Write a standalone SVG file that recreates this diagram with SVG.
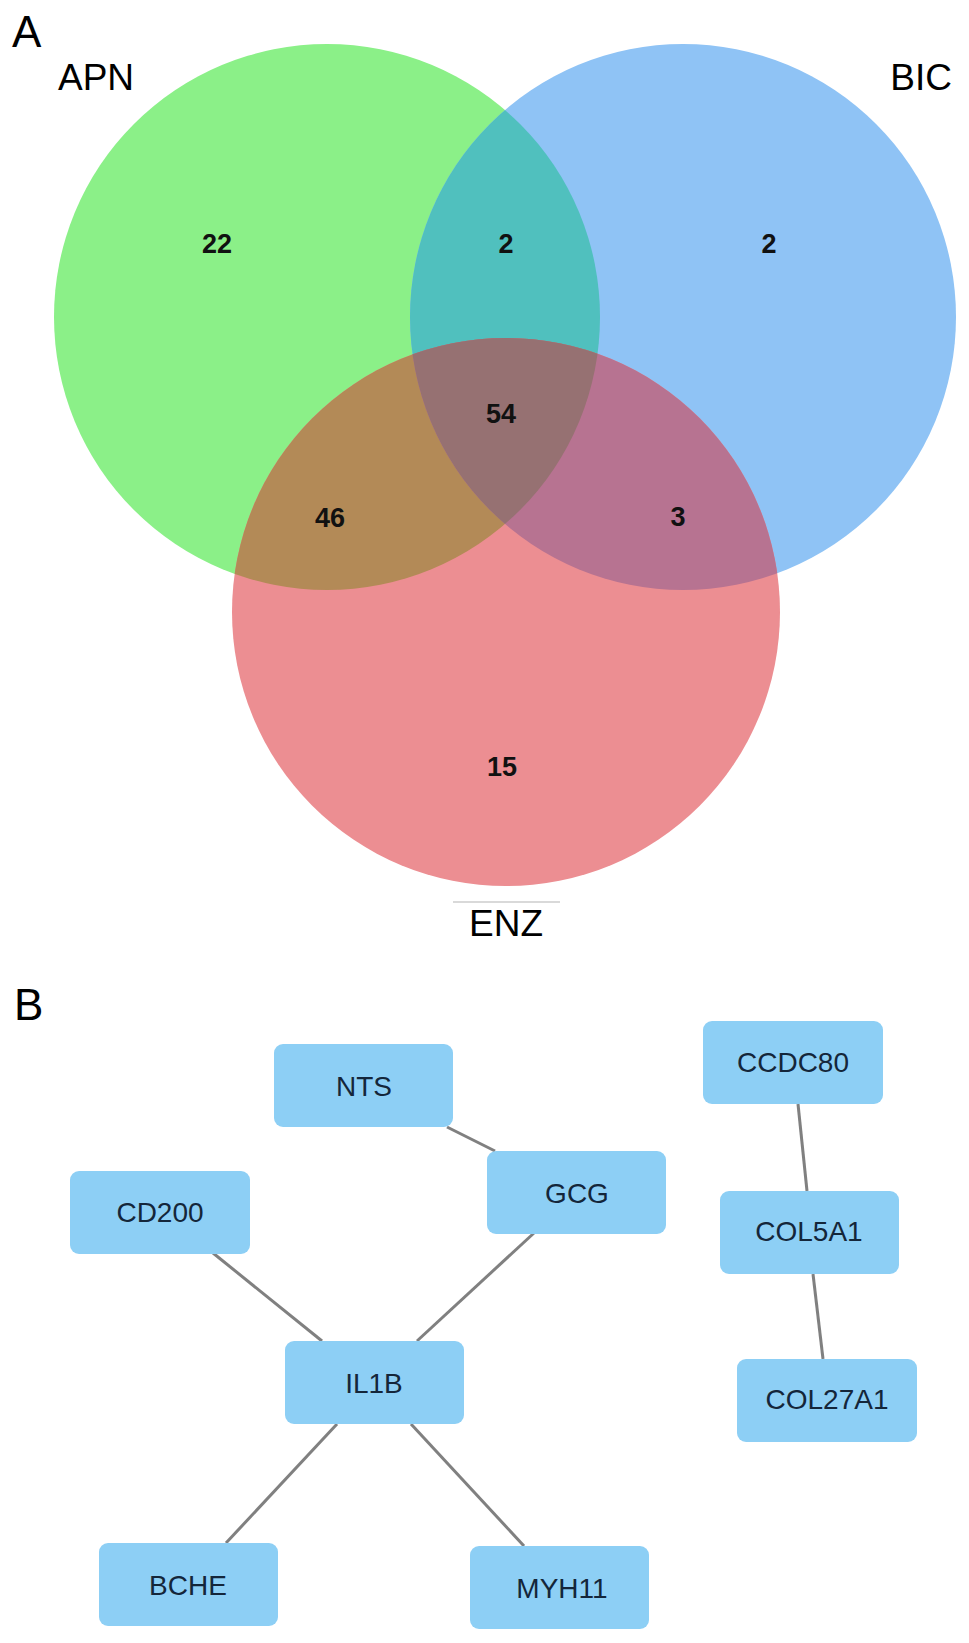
<svg xmlns="http://www.w3.org/2000/svg" width="969" height="1643" viewBox="0 0 969 1643">
<style>
.lbl{font-family:"Liberation Sans",Arial,sans-serif;fill:#000}
.num{font-family:"Liberation Sans",Arial,sans-serif;font-weight:bold;font-size:27px;fill:#111;text-anchor:middle}
.box{fill:#8DCFF5}
.nt{font-family:"Liberation Sans",Arial,sans-serif;font-size:28px;fill:#14263a;text-anchor:middle}
.edge{stroke:#808080;stroke-width:3;fill:none}
</style>
<defs>
<clipPath id="cG"><circle cx="327" cy="317" r="273"/></clipPath>
<clipPath id="cB"><circle cx="683" cy="317" r="273"/></clipPath>
<clipPath id="cR"><circle cx="506" cy="612" r="274"/></clipPath>
</defs>
<rect width="969" height="1643" fill="#fff"/>
<text class="lbl" x="12" y="47" font-size="44">A</text>
<g id="venn">
<circle id="setAPN" cx="327" cy="317" r="273" fill="#8BF088"/>
<circle id="setBIC" cx="683" cy="317" r="273" fill="#8FC3F5"/>
<circle id="setENZ" cx="506" cy="612" r="274" fill="#EC8E92"/>
<circle cx="683" cy="317" r="273" fill="#50C0BE" clip-path="url(#cG)"/>
<circle cx="506" cy="612" r="274" fill="#B38A57" clip-path="url(#cG)"/>
<circle cx="506" cy="612" r="274" fill="#B77391" clip-path="url(#cB)"/>
<g clip-path="url(#cG)"><circle cx="506" cy="612" r="274" fill="#967172" clip-path="url(#cB)"/></g>
</g>
<text class="lbl" x="58" y="90" font-size="37">APN</text>
<text class="lbl" x="952" y="90" font-size="37" text-anchor="end">BIC</text>
<line x1="453" y1="902" x2="560" y2="902" stroke="#cccccc" stroke-width="1.5"/>
<text class="lbl" x="506" y="936" font-size="37" text-anchor="middle">ENZ</text>
<text class="num" x="217" y="253">22</text>
<text class="num" x="506" y="253">2</text>
<text class="num" x="769" y="253">2</text>
<text class="num" x="501" y="423">54</text>
<text class="num" x="330" y="527">46</text>
<text class="num" x="678" y="526">3</text>
<text class="num" x="502" y="776">15</text>
<text class="lbl" x="14" y="1020" font-size="44">B</text>
<g id="connectors">
<line class="edge" x1="447" y1="1127" x2="495" y2="1151"/>
<line class="edge" x1="213" y1="1253" x2="322" y2="1341"/>
<line class="edge" x1="534" y1="1233" x2="417" y2="1341"/>
<line class="edge" x1="337" y1="1424" x2="226" y2="1543"/>
<line class="edge" x1="411" y1="1424" x2="524" y2="1546"/>
<line class="edge" x1="798" y1="1104" x2="807" y2="1191"/>
<line class="edge" x1="813" y1="1274" x2="823" y2="1359"/>
</g>
<g id="NTS"><rect class="box" x="274" y="1044" width="179" height="83" rx="9"/><text class="nt" x="364" y="1096">NTS</text></g>
<g id="GCG"><rect class="box" x="487" y="1151" width="179" height="83" rx="9"/><text class="nt" x="577" y="1203">GCG</text></g>
<g id="CD200"><rect class="box" x="70" y="1171" width="180" height="83" rx="9"/><text class="nt" x="160" y="1222">CD200</text></g>
<g id="IL1B"><rect class="box" x="285" y="1341" width="179" height="83" rx="9"/><text class="nt" x="374" y="1393">IL1B</text></g>
<g id="BCHE"><rect class="box" x="99" y="1543" width="179" height="83" rx="9"/><text class="nt" x="188" y="1595">BCHE</text></g>
<g id="MYH11"><rect class="box" x="470" y="1546" width="179" height="83" rx="9"/><text class="nt" x="562" y="1598">MYH11</text></g>
<g id="CCDC80"><rect class="box" x="703" y="1021" width="180" height="83" rx="9"/><text class="nt" x="793" y="1072">CCDC80</text></g>
<g id="COL5A1"><rect class="box" x="720" y="1191" width="179" height="83" rx="9"/><text class="nt" x="809" y="1241">COL5A1</text></g>
<g id="COL27A1"><rect class="box" x="737" y="1359" width="180" height="83" rx="9"/><text class="nt" x="827" y="1409">COL27A1</text></g>
</svg>
